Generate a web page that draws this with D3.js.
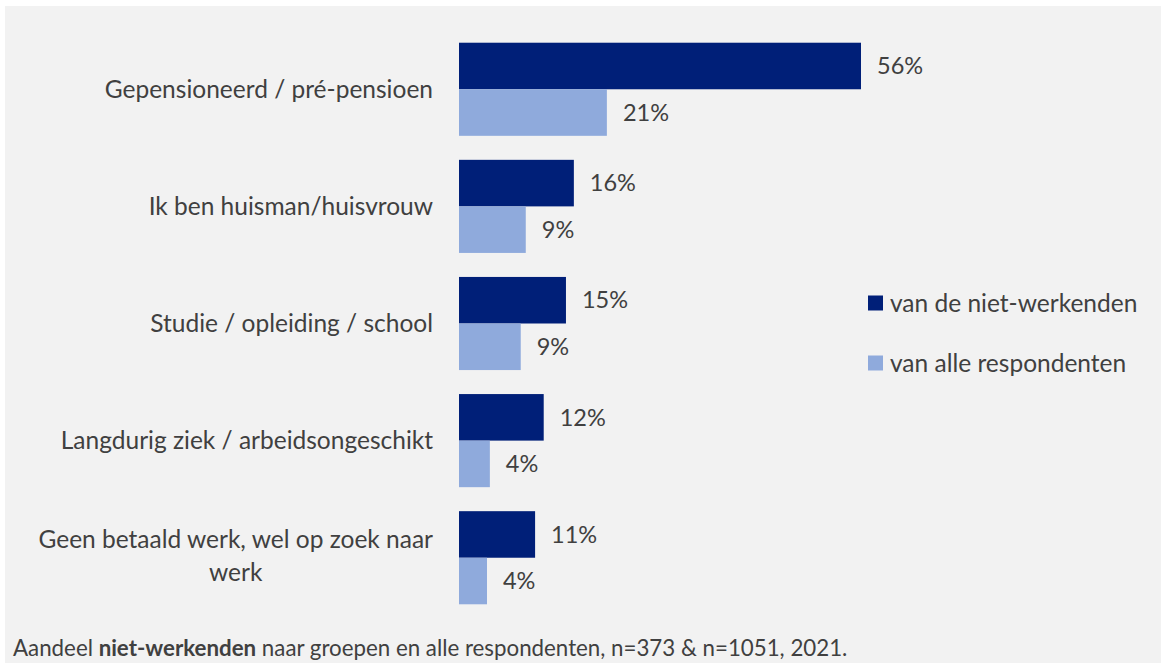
<!DOCTYPE html>
<html>
<head>
    <meta charset="utf-8">
    <style>
        html, body { margin: 0; padding: 0; background: #fff; }
        svg { display: block; }
        text { font-family: Lato, "Open Sans", sans-serif; fill: #404040; }
    </style>
    <script src="https://cdn.jsdelivr.net/npm/d3@7/dist/d3.min.js"></script>
    <title>Niet-werkenden</title>
</head>
<body>
    <div id="chart"></div>
    <script>
        // Data
        const categories = [
            "Gepensioneerd / pré-pensioen",
            "Ik ben huisman/huisvrouw",
            "Studie / opleiding / school",
            "Langdurig ziek / arbeidsongeschikt",
            "Geen betaald werk, wel op zoek naar werk"
        ];
        const seriesNames = ["van de niet-werkenden", "van alle respondenten"];
        const nietWerkenden = [56, 16, 14.9, 11.8, 10.6];
        const alleRespondenten = [20.6, 9.3, 8.6, 4.3, 3.9];
        const caption = ["Aandeel ", "niet-werkenden", " naar groepen en alle respondenten, n=373 & n=1051, 2021."];

        const colors = ["#001f78", "#8faadc"];

        const width = 1161, height = 663;
        const svg = d3.select("#chart").append("svg")
            .attr("width", width)
            .attr("height", height);

        // grey panel
        svg.append("rect")
            .attr("x", 5).attr("y", 6)
            .attr("width", width - 5).attr("height", height - 6)
            .attr("fill", "#f2f2f2");

        const x = d3.scaleLinear()
            .domain([0, 56])
            .range([459, 861]);

        const y = d3.scaleBand()
            .domain(categories)
            .range([31, 616])
            .paddingInner(0.205)
            .paddingOuter(0.1);

        const sub = d3.scaleBand()
            .domain([0, 1])
            .range([0, y.bandwidth()]);

        const rows = categories.map((c, i) => ({ cat: c, vals: [nietWerkenden[i], alleRespondenten[i]] }));
        const fmt = d => d3.format(".0f")(d) + "%";
        const fontSize = 24.5;

        const g = svg.selectAll("g.row")
            .data(rows)
            .enter().append("g")
            .attr("class", "row")
            .attr("transform", d => `translate(0,${y(d.cat)})`);

        g.selectAll("rect")
            .data(d => d.vals)
            .enter().append("rect")
            .attr("x", x(0))
            .attr("y", (d, i) => sub(i))
            .attr("width", d => x(d) - x(0))
            .attr("height", sub.bandwidth())
            .attr("fill", (d, i) => colors[i]);

        g.selectAll("text.val")
            .data(d => d.vals)
            .enter().append("text")
            .attr("class", "val")
            .attr("x", d => x(d) + 16)
            .attr("y", (d, i) => sub(i) + sub.bandwidth() / 2)
            .attr("dy", "0.35em")
            .style("font-size", "23.5px")
            .text(fmt);

        // category labels, wrapped when too wide
        const labelRight = 433, maxLabel = 410;
        g.each(function (d) {
            const grp = d3.select(this);
            const t = grp.append("text")
                .style("font-size", fontSize + "px")
                .attr("text-anchor", "end")
                .attr("x", labelRight)
                .attr("y", y.bandwidth() / 2)
                .attr("dy", "0.35em")
                .text(d.cat);
            if (t.node().getComputedTextLength() > maxLabel) {
                const words = d.cat.split(" ");
                const lines = [words.slice(0, -1).join(" "), words[words.length - 1]];
                t.text(null);
                const tmp = grp.append("text").style("font-size", fontSize + "px").text(lines[0]);
                const w = tmp.node().getComputedTextLength();
                tmp.remove();
                const lh = 33;
                t.attr("text-anchor", "middle")
                    .attr("y", y.bandwidth() / 2 - lh / 2 - 2);
                lines.forEach((l, i) => {
                    t.append("tspan")
                        .attr("x", labelRight - w / 2)
                        .attr("dy", i === 0 ? "0.35em" : lh)
                        .text(l);
                });
            }
        });

        // legend
        const legend = svg.selectAll("g.legend")
            .data(seriesNames)
            .enter().append("g")
            .attr("class", "legend")
            .attr("transform", (d, i) => `translate(868,${303 + i * 60})`);
        legend.append("rect")
            .attr("x", 0).attr("y", -7.5)
            .attr("width", 15).attr("height", 15)
            .attr("fill", (d, i) => colors[i]);
        legend.append("text")
            .attr("x", 22)
            .attr("dy", "0.35em")
            .style("font-size", fontSize + "px")
            .text(d => d);

        // caption
        svg.append("text")
            .attr("x", 13).attr("y", 656)
            .style("font-size", "22.3px")
            .selectAll("tspan")
            .data(caption)
            .enter().append("tspan")
            .style("font-weight", (d, i) => i === 1 ? "bold" : null)
            .text(d => d);
    </script>
</body>
</html>
